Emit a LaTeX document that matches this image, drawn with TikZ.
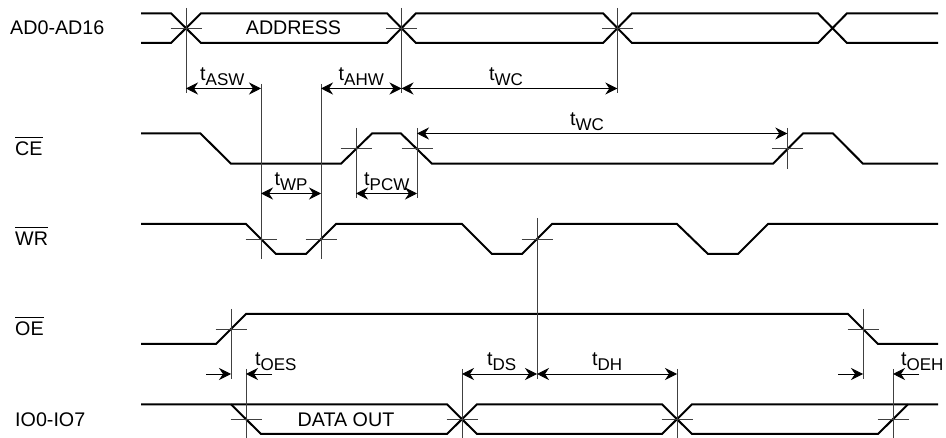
\documentclass[tikz,border=0pt]{standalone}
\usepackage{fontspec}
\setmainfont{Liberation Sans}
\usetikzlibrary{arrows.meta}
\tikzset{
  wave/.style={line width=2pt,line join=miter},
  tick/.style={line width=0.9pt,black!75},
  span/.style={line width=0.9pt,{Stealth[length=12pt,width=12pt,inset=4pt]}-{Stealth[length=12pt,width=12pt,inset=4pt]}},
  nudge/.style={line width=0.9pt,-{Stealth[length=12pt,width=12pt,inset=4pt]}},
  sig/.style={anchor=base west,inner sep=0pt},
  mid/.style={anchor=base,inner sep=0pt},
  lbl/.style={anchor=base west,inner sep=0pt}
}
\newcommand{\tsub}[1]{t\raisebox{-4.5pt}{\fontsize{17}{17}\selectfont #1}}
\newcommand{\nbar}[1]{$\overline{\mbox{\rule{0pt}{17pt}#1}}$}
\begin{document}
\begin{tikzpicture}[x=1pt,y=-1pt,font=\fontsize{19.7}{22}\selectfont]
  \useasboundingbox (0,0) rectangle (946,438);
  % signal names
  \node[sig] (nAD) at (10,35) {AD0-AD16};
  \node[sig] (nCE) at (15,156) {\nbar{CE}};
  \node[sig] (nWR) at (15,245.7) {\nbar{WR}};
  \node[sig] (nOE) at (15,336) {\nbar{OE}};
  \node[sig] (nIO) at (15,427) {IO0-IO7};
  \node[mid] (nADDR) at (293.5,35) {ADDRESS};
  \node[mid] (nDATA) at (346,427) {DATA OUT};
  % address bus
  \draw[wave] (141,13.3)--(171,13.3)--(201,43)--(387,43)--(416,13.3)--(603,13.3)--(632,43)--(818,43)--(847,13.3)--(938,13.3);
  \draw[wave] (141,43)--(171,43)--(201,13.3)--(387,13.3)--(416,43)--(603,43)--(632,13.3)--(818,13.3)--(847,43)--(938,43);
  % control lines
  \draw[wave] (141,133.5)--(200.5,133.5)--(231,163.7)--(341,163.7)--(372,133.5)--(401,133.5)--(432,163.7)--(773,163.7)--(803,133.5)--(833,133.5)--(863,163.7)--(938,163.7);
  \draw[wave] (141,224)--(246,224)--(276,254)--(306,254)--(336,224)--(462,224)--(492,254)--(522,254)--(552,224)--(677,224)--(708,254)--(738,254)--(768,224)--(938,224);
  \draw[wave] (141,344)--(216,344)--(246,314)--(848,314)--(878,344)--(938,344);
  % data bus
  \draw[wave] (141,404.3)--(447,404.3)--(477,434)--(662,434)--(692,404.3)--(938,404.3);
  \draw[wave] (231,404.3)--(261,434)--(447,434)--(477,404.3)--(662,404.3)--(692,434)--(878,434)--(908,404.3);
  % crossing ticks
  \foreach \xa/\ya in {186/28,401.5/28,617.3/28,356/148.5,417/148.5,787.3/148.5,261/239,321/239,537/239,231/329,863/329,246/419,462/419,677/419,893/419}
    \draw[tick] (\xa-15.5,\ya)--(\xa+15.5,\ya);
  \foreach \xa/\ya/\yb in {186/8/93,401.5/8/93,617.3/8/93,261/84/259,321/84/259,356/128/198,417/128/198,787.3/128/169,537/218/379,231/309/379,863/309/379,246/369/438,462/369/438,677/369/438,893/369/438}
    \draw[tick] (\xa,\ya)--(\xa,\yb);
  % timing points
  \coordinate (pA) at (186,88.5);
  \coordinate (pB) at (261,88.5);
  \coordinate (pC) at (321,88.5);
  \coordinate (pD) at (401.5,88.5);
  \coordinate (pE) at (617.3,88.5);
  \coordinate (pF) at (417,133.5);
  \coordinate (pG) at (787.3,133.5);
  \coordinate (pH) at (261,193.5);
  \coordinate (pI) at (321,193.5);
  \coordinate (pJ) at (356,193.5);
  \coordinate (pK) at (417,193.5);
  \coordinate (pL) at (462,374);
  \coordinate (pM) at (537,374);
  \coordinate (pN) at (677,374);
  \coordinate (qA) at (206,374);
  \coordinate (qB) at (231,374);
  \coordinate (qC) at (272,374);
  \coordinate (qD) at (246,374);
  \coordinate (qE) at (838,374);
  \coordinate (qF) at (863,374);
  \coordinate (qG) at (919,374);
  \coordinate (qH) at (893,374);
  \draw[span] (pA)--(pB);
  \draw[span] (pC)--(pD);
  \draw[span] (pD)--(pE);
  \draw[span] (pF)--(pG);
  \draw[span] (pH)--(pI);
  \draw[span] (pJ)--(pK);
  \draw[span] (pL)--(pM);
  \draw[span] (pM)--(pN);
  \draw[nudge] (qA)--(qB);
  \draw[nudge] (qC)--(qD);
  \draw[nudge] (qE)--(qF);
  \draw[nudge] (qG)--(qH);
  % timing names
  \node[lbl] (tASW) at (200,81) {\tsub{ASW}};
  \node[lbl] (tAHW) at (338.5,81) {\tsub{AHW}};
  \node[lbl] (tWCa) at (489,81) {\tsub{WC}};
  \node[lbl] (tWCb) at (570,126) {\tsub{WC}};
  \node[lbl] (tWP) at (274.5,186) {\tsub{WP}};
  \node[lbl] (tPCW) at (364,186) {\tsub{PCW}};
  \node[lbl] (tOES) at (255,366) {\tsub{OES}};
  \node[lbl] (tDS) at (487,366) {\tsub{DS}};
  \node[lbl] (tDH) at (592,366) {\tsub{DH}};
  \node[lbl] (tOEH) at (901,366) {\tsub{OEH}};
\end{tikzpicture}
\end{document}
